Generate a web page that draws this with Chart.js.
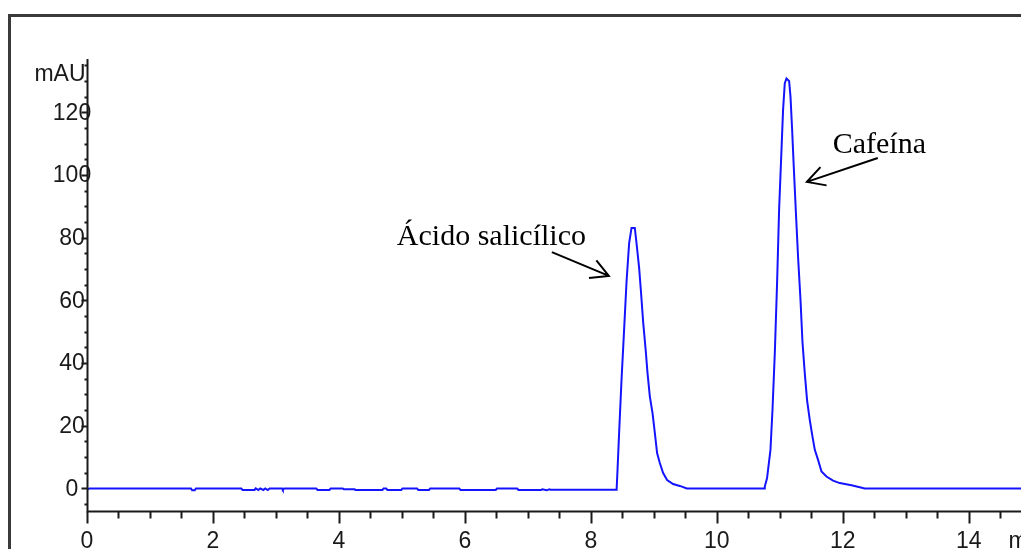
<!DOCTYPE html>
<html>
<head>
<meta charset="utf-8">
<script src="https://cdn.jsdelivr.net/npm/chart.js@4"></script>
<style>
    body { margin: 0; background: #fff; }
    #contenedor { width: 1021px; height: 549px; }
</style>
</head>
<body>
<div id="contenedor"><canvas id="cromatograma" width="1021" height="549"></canvas></div>
<script>
const tiempo = [
    0, 0.04, 1.65, 1.67, 1.71, 1.73, 2.45, 2.47, 2.66, 2.68, 2.72, 2.75, 2.8, 2.83, 2.87, 2.9,
    3.1, 3.11, 3.13, 3.64, 3.66, 3.85, 3.87, 4.06, 4.08, 4.25, 4.26, 4.69, 4.71, 4.75, 4.77,
    4.99, 5.01, 5.24, 5.26, 5.43, 5.45, 5.91, 5.93, 6.49, 6.51, 6.83, 6.85, 7.21, 7.23, 7.3,
    7.34, 7.36, 8.4,
    // ácido salicílico
    8.41, 8.42, 8.449, 8.487, 8.524, 8.567, 8.608, 8.646, 8.698, 8.725, 8.767, 8.794, 8.83,
    8.873, 8.9, 8.937, 8.979, 9.016, 9.052, 9.095, 9.148, 9.211, 9.306, 9.413, 9.524, 10.75,
    // cafeína
    10.762, 10.798, 10.852, 10.884, 10.921, 10.957, 10.989, 11.027, 11.052, 11.079, 11.106,
    11.148, 11.17, 11.195, 11.222, 11.254, 11.29, 11.329, 11.36, 11.397, 11.433, 11.476,
    11.519, 11.556, 11.608, 11.662, 11.741, 11.846, 11.952, 12.138, 12.27, 12.349, 14.9
];
const senal = [
    -0.4, 0, 0, -0.6, -0.6, 0, 0, -0.5, -0.5, 0, -0.5, 0, -0.5, 0, -0.5, 0,
    0, -0.4, 0, 0, -0.5, -0.5, 0, 0, -0.3, -0.3, -0.5, -0.5, 0, 0, -0.5,
    -0.5, 0, 0, -0.5, -0.5, 0, 0, -0.5, -0.5, 0, 0, -0.5, -0.5, -0.3, -0.6,
    -0.3, -0.4, -0.4,
    0, 4.3, 17.7, 34.6, 49, 66, 78.3, 83.1, 83.1, 78.3, 70.3, 63.3, 53.2,
    43.6, 36.8, 29.3, 24.1, 17.7, 11.3, 8.1, 4.9, 2.7, 1.4, 0.8, 0, 0,
    0.6, 3.3, 12.3, 25, 43.2, 65.5, 88.8, 108, 120.7, 129.2, 130.8,
    130, 125, 114.9, 102.6, 88.8, 73.9, 60.1, 46.8, 36.7, 28.2, 21.9,
    16.5, 12.3, 9.1, 5.4, 3.8, 2.5, 1.7, 1.0, 0.4, 0, 0
];

// Etiquetas de los ejes
const marcasX = [0, 2, 4, 6, 8, 10, 12, 14];
const marcasY = [0, 20, 40, 60, 80, 100, 120];
const unidadY = 'mAU';
const unidadX = 'min';

// Anotaciones (en coordenadas de datos: [min, mAU])
const anotaciones = ['Ácido salicílico', 'Cafeína'];
const posTexto = [[4.92, 77.7], [11.84, 107]];
const flechaDesde = [[7.381, 75.4], [12.556, 105.4]];
const flechaHasta = [[8.286, 67.8], [11.43, 97.8]];

const fuenteEjes = '23px "Liberation Sans", Arial, sans-serif';
const fuenteNotas = '30px "Liberation Serif", "Times New Roman", serif';

// Marco exterior
const marco = {
    id: 'marco',
    beforeDraw(chart) {
        const ctx = chart.ctx;
        ctx.save();
        ctx.fillStyle = '#fff';
        ctx.fillRect(0, 0, chart.width, chart.height);
        ctx.strokeStyle = '#3a3a3a';
        ctx.lineWidth = 3;
        ctx.strokeRect(9.5, 15.5, 2000, 2000);
        ctx.restore();
    }
};

// Ejes con marcas mayores y menores
const ejes = {
    id: 'ejes',
    afterDatasetsDraw(chart) {
        const ctx = chart.ctx;
        const x = chart.scales.x;
        const y = chart.scales.y;
        const area = chart.chartArea;
        const x0 = Math.round(area.left) + 0.5;
        const y0 = Math.round(area.bottom) + 0.5;

        ctx.save();
        ctx.strokeStyle = '#1a1a1a';
        ctx.lineWidth = 2;
        ctx.beginPath();
        ctx.moveTo(x0, area.top);
        ctx.lineTo(x0, y0);
        ctx.lineTo(area.right, y0);
        ctx.stroke();

        // marcas del eje x cada 0.5 min
        ctx.beginPath();
        for (let t = 0; t <= x.max; t += 0.5) {
            const px = Math.round(x.getPixelForValue(t)) + 0.5;
            const largo = (t % 2 === 0) ? 12 : 7;
            ctx.moveTo(px, y0);
            ctx.lineTo(px, y0 + largo);
        }
        // marcas del eje y cada 5 mAU
        for (let v = -5; v <= y.max; v += 5) {
            const py = Math.round(y.getPixelForValue(v)) + 0.5;
            const largo = (v % 20 === 0) ? 6 : 3;
            ctx.moveTo(x0, py);
            ctx.lineTo(x0 - largo, py);
        }
        ctx.stroke();

        ctx.fillStyle = '#1a1a1a';
        ctx.font = fuenteEjes;
        ctx.textAlign = 'center';
        ctx.textBaseline = 'middle';
        marcasY.forEach(v => {
            ctx.fillText(String(v), x0 - 15.5, y.getPixelForValue(v) + 1);
        });
        ctx.textAlign = 'right';
        ctx.textBaseline = 'alphabetic';
        ctx.fillText(unidadY, x0 - 2, y.getPixelForValue(130) + 0.5);

        ctx.textAlign = 'center';
        marcasX.forEach(t => {
            ctx.fillText(String(t), x.getPixelForValue(t), y0 + 36);
        });
        ctx.textAlign = 'left';
        ctx.fillText(unidadX, x.getPixelForValue(14.63), y0 + 36);
        ctx.restore();
    }
};

// Flechas y nombres de los picos
const notas = {
    id: 'notas',
    afterDraw(chart) {
        const ctx = chart.ctx;
        const x = chart.scales.x;
        const y = chart.scales.y;
        ctx.save();
        ctx.fillStyle = '#000';
        ctx.strokeStyle = '#000';
        ctx.lineWidth = 2;
        ctx.font = fuenteNotas;
        ctx.textAlign = 'left';
        ctx.textBaseline = 'alphabetic';
        anotaciones.forEach((texto, i) => {
            ctx.fillText(texto, x.getPixelForValue(posTexto[i][0]), y.getPixelForValue(posTexto[i][1]));

            const ax = x.getPixelForValue(flechaDesde[i][0]);
            const ay = y.getPixelForValue(flechaDesde[i][1]);
            const bx = x.getPixelForValue(flechaHasta[i][0]);
            const by = y.getPixelForValue(flechaHasta[i][1]);
            const ang = Math.atan2(by - ay, bx - ax);
            ctx.beginPath();
            ctx.moveTo(ax, ay);
            ctx.lineTo(bx, by);
            ctx.moveTo(bx - 20 * Math.cos(ang - 0.5), by - 20 * Math.sin(ang - 0.5));
            ctx.lineTo(bx, by);
            ctx.lineTo(bx - 20 * Math.cos(ang + 0.5), by - 20 * Math.sin(ang + 0.5));
            ctx.stroke();
        });
        ctx.restore();
    }
};

new Chart(document.getElementById('cromatograma').getContext('2d'), {
    type: 'line',
    data: {
        datasets: [{
            data: tiempo.map((t, i) => ({ x: t, y: senal[i] })),
            borderColor: '#1414ff',
            borderWidth: 2,
            pointRadius: 0,
            tension: 0,
            fill: false
        }]
    },
    options: {
        responsive: false,
        animation: false,
        devicePixelRatio: 1,
        layout: { padding: { left: 87, top: 59, right: 0, bottom: 38 } },
        plugins: { legend: { display: false }, tooltip: { enabled: false } },
        scales: {
            x: { type: 'linear', min: 0, max: 14.83, display: false },
            y: { type: 'linear', min: -7.2, max: 137, display: false }
        }
    },
    plugins: [marco, ejes, notas]
});
</script>
</body>
</html>
